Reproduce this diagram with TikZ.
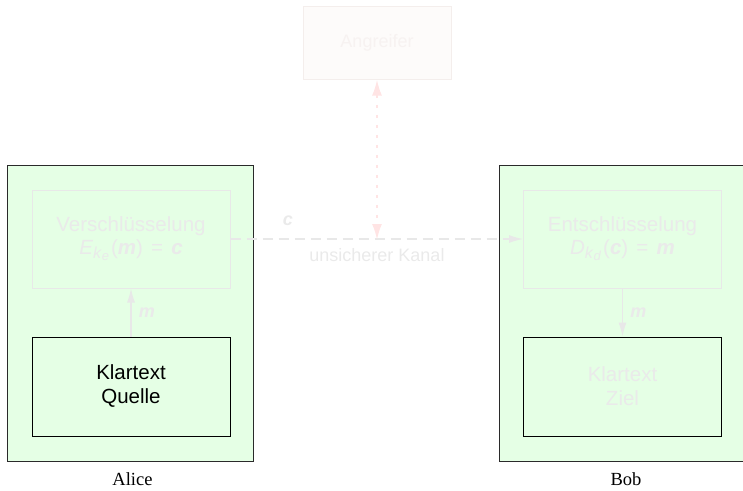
\documentclass[tikz,border=0pt]{standalone}
\usepackage{fontspec}
\setmainfont{Liberation Sans}
\newfontfamily\labelserif{Liberation Serif}
\usetikzlibrary{arrows.meta}
\definecolor{partyfill}{HTML}{E5FFE5}
\definecolor{partyline}{HTML}{2A2A2A}
\definecolor{faint}{HTML}{EAEAEA}
\definecolor{faintline}{HTML}{E8E8E8}
\definecolor{attfill}{HTML}{FDFBFA}
\definecolor{attline}{HTML}{F4EEEC}
\definecolor{atttext}{HTML}{F7F2F1}
\definecolor{attarrow}{HTML}{FFE4E4}
\newcommand{\bmi}[1]{\textbf{\textit{#1}}}
\newcommand{\subtwo}[2]{\raisebox{-4pt}{\fontsize{16}{16}\selectfont\textit{#1}\raisebox{-2pt}{\fontsize{13}{13}\selectfont\textit{#2}}}\hspace{2pt}}
\newcommand{\eqsign}{\hspace{0.4em}=\hspace{0.4em}}
\tikzset{
  party/.style={draw=partyline, line width=1pt, fill=partyfill,
    minimum width=246pt, minimum height=296pt, inner sep=0pt},
  fadedbox/.style={draw=faintline, line width=1pt, text=faint,
    minimum width=198pt, minimum height=98pt, align=center,
    font=\fontsize{20.5}{24}\selectfont},
  plainbox/.style={draw=black, line width=1pt, align=center,
    minimum width=198pt, minimum height=99pt,
    font=\fontsize{20.5}{24}\selectfont},
  flow/.style={draw=faintline, line width=1.3pt,
    -{Latex[length=14pt,width=8pt]}},
  faintlabel/.style={text=faint, font=\fontsize{18}{22}\selectfont},
  partyname/.style={font=\labelserif\fontsize{18.5}{20}\selectfont}
}
\begin{document}
\begin{tikzpicture}[x=1pt,y=-1pt]
\useasboundingbox (0,0) rectangle (743,490);

% the two parties
\node[party] (alice) at (130.5,313) {};
\node[party] (bob) at (622,313) {};
\node[partyname] (alicename) at (132.5,479) {Alice};
\node[partyname] (bobname) at (626,479) {Bob};

% Alice: plaintext source and encryption
\node[fadedbox] (enc) at (131,239)
  {Verschlüsselung\\[-1pt]\textit{E}\subtwo{k}{e}(\bmi{m})\eqsign\bmi{c}};
\node[plainbox, fill=partyfill] (src) at (131,386.5) {Klartext\\Quelle};
\draw[flow] (src) -- node[right, faintlabel, xshift=4pt] {\bmi{m}} (enc);

% Bob: decryption and plaintext sink
\node[fadedbox] (dec) at (622.5,239)
  {Entschlüsselung\\[-1pt]\textit{D}\subtwo{k}{d}(\bmi{c})\eqsign\bmi{m}};
\node[plainbox, fill=partyfill, text=faint] (dst) at (622.5,386.5) {Klartext\\Ziel};
\draw[flow] (dec) -- node[right, faintlabel, xshift=4pt] {\bmi{m}} (dst);

% insecure channel
\draw[draw=faintline, line width=1.2pt, dash pattern=on 10pt off 6pt,
  -{Latex[length=14pt,width=8pt]}] (enc) -- (dec);
\node[faintlabel] (clabel) at (288,221) {\bmi{c}};
\node[faintlabel] (channel) at (377,255) {unsicherer Kanal};
\coordinate (tap) at (377,240);

% attacker
\node[draw=attline, fill=attfill, line width=1pt, minimum width=148pt,
  minimum height=73pt, text=atttext, font=\fontsize{18}{22}\selectfont]
  (att) at (377,42.5) {Angreifer};
\draw[draw=attarrow, line width=2pt, dash pattern=on 3pt off 7pt,
  {Latex[length=16pt,width=10pt]}-{Latex[length=16pt,width=10pt]}]
  (att) -- (tap);
\end{tikzpicture}
\end{document}
